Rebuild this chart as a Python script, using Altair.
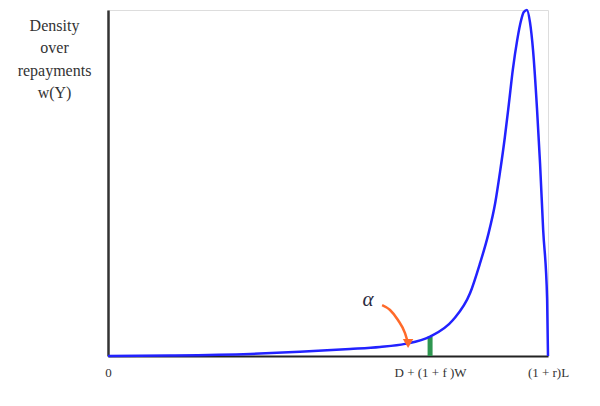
import altair as alt
import pandas as pd

# density curve (x: share of the way to (1+r)L, y: relative density)
curve_x = [0.0, 0.141, 0.323, 0.436, 0.55, 0.618, 0.675, 0.732, 0.784, 0.823, 0.845,
           0.864, 0.880, 0.891, 0.902, 0.911, 0.920, 0.930, 0.939, 0.945, 0.952,
           0.959, 0.966, 0.975, 0.982, 0.989, 0.998, 1.0]
curve_y = [0.0, 0.0015, 0.006, 0.012, 0.02, 0.026, 0.035, 0.056, 0.104, 0.182, 0.266,
           0.350, 0.442, 0.532, 0.633, 0.728, 0.827, 0.913, 0.971, 0.994, 1.0,
           0.965, 0.884, 0.715, 0.555, 0.365, 0.165, 0.0]

tick_values = [0.0, 0.732, 1.0]
tick_labels = ["0", "D + (1 + f )W", "(1 + r)L"]

threshold_x = [0.732]
threshold_y = [0.056]

arrow_x = [0.623, 0.641, 0.659, 0.675, 0.682]
arrow_y = [0.147, 0.133, 0.104, 0.066, 0.036]

alpha_x = [0.591]
alpha_y = [0.162]

y_title = ["Density", "over", "repayments", "w(Y)"]

curve = pd.DataFrame({"x": curve_x, "y": curve_y})
bar = pd.DataFrame({"x": threshold_x, "y0": [0.0], "y1": threshold_y})
arrow = pd.DataFrame({"x": arrow_x, "y": arrow_y, "o": list(range(len(arrow_x)))})
head = pd.DataFrame({"x": arrow_x[-1:], "y": arrow_y[-1:]})
alpha = pd.DataFrame({"x": alpha_x, "y": alpha_y, "t": ["α"]})

label_expr = " : ".join(
    f"datum.value == {v} ? '{l}'" for v, l in zip(tick_values, tick_labels)
) + " : ''"

xs = alt.Scale(domain=[0, 1], nice=False, zero=False)
ys = alt.Scale(domain=[0, 1], nice=False)

x_axis = alt.Axis(values=tick_values, labelExpr=label_expr, ticks=False, grid=False,
                  title=None, domainColor="#222", domainWidth=2,
                  labelFont="Liberation Serif", labelFontSize=13, labelColor="#333",
                  labelPadding=10, labelFlush=False, labelOverlap=False)
y_axis = alt.Axis(values=[], ticks=False, grid=False, labels=False,
                  domainColor="#333", domainWidth=2.5,
                  title=y_title, titleAngle=0, titleAlign="center", titleBaseline="top",
                  titleX=-54, titleY=7, titleFont="Liberation Serif", titleFontSize=16,
                  titleFontWeight="normal", titleColor="#333", titleLineHeight=22.5)

line = alt.Chart(curve).mark_line(color="#2222ff", strokeWidth=2.5, interpolate="monotone").encode(
    x=alt.X("x:Q", scale=xs, axis=x_axis),
    y=alt.Y("y:Q", scale=ys, axis=y_axis),
)

green = alt.Chart(bar).mark_rule(color="#2e9650", strokeWidth=5).encode(
    x=alt.X("x:Q", scale=xs), y=alt.Y("y0:Q", scale=ys), y2="y1:Q"
)

arr = alt.Chart(arrow).mark_line(color="#ff6a2a", strokeWidth=2.5, interpolate="monotone").encode(
    x=alt.X("x:Q", scale=xs), y=alt.Y("y:Q", scale=ys), order="o:Q"
)

arrhead = alt.Chart(head).mark_point(shape="triangle-down", filled=True, color="#ff6a2a",
                                     size=110, opacity=1).encode(
    x=alt.X("x:Q", scale=xs), y=alt.Y("y:Q", scale=ys)
)

alp = alt.Chart(alpha).mark_text(font="Liberation Serif", fontSize=21, fontStyle="italic",
                                 color="#2a2a40").encode(
    x=alt.X("x:Q", scale=xs), y=alt.Y("y:Q", scale=ys), text="t:N"
)

chart = alt.layer(green, line, arr, arrhead, alp).properties(
    width=440, height=346,
    autosize=alt.AutoSizeParams(type="none"),
    padding={"left": 100, "top": 2, "right": 44, "bottom": 42},
).configure_view(stroke=None).configure(font="Liberation Serif").configure_axis(
    titleFont="Liberation Serif", labelFont="Liberation Serif"
)

chart.save("out.html", embed_options={"renderer": "svg", "actions": False})
